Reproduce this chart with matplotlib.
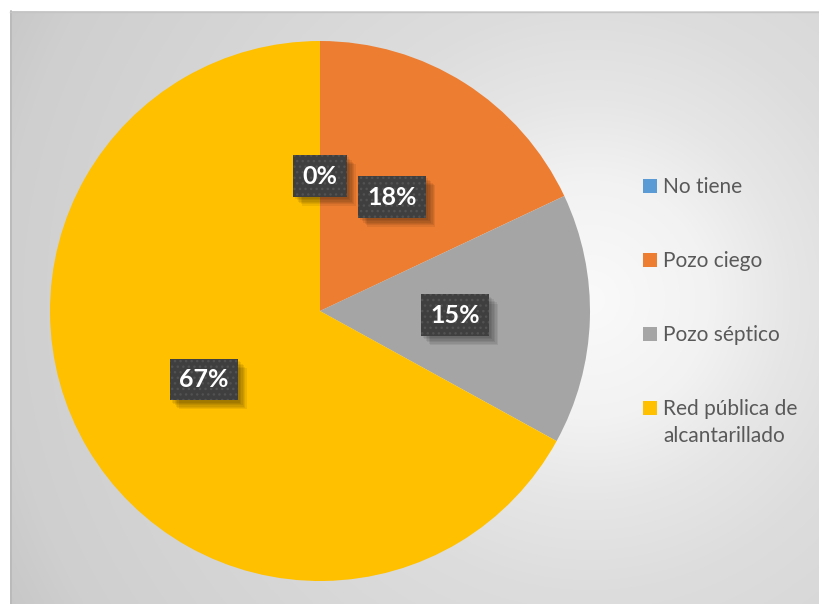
import numpy as np
import matplotlib
matplotlib.use("Agg")
import matplotlib.pyplot as plt
from matplotlib.patches import Rectangle
from matplotlib.lines import Line2D
import matplotlib.patheffects as pe

# Data
categories = ["No tiene", "Pozo ciego", "Pozo séptico", "Red pública de\nalcantarillado"]
shares = [0, 18, 15, 67]
colors = ["#5B9BD5", "#ED7D31", "#A5A5A5", "#FFC000"]

W, H = 819, 604
fig = plt.figure(figsize=(W / 100, H / 100), dpi=100)
fig.patch.set_facecolor("white")

# Chart-area panel with a soft radial gradient
bg = fig.add_axes([0, 0, 1, 1])
bg.set_xlim(0, W)
bg.set_ylim(H, 0)
bg.axis("off")
yy, xx = np.mgrid[0:H, 0:W] + 0.5
dist = np.hypot(xx - 590, yy - 300)
shade = np.interp(dist, [0, 120, 200, 290, 450, 590, 700],
                  [250, 242, 230, 221, 213, 207, 194]) / 255.0
img = np.dstack([shade, shade, shade])
img[:11, :, :] = 1.0
img[:, :10, :] = 1.0
bg.imshow(img, extent=(0, W, H, 0), interpolation="bilinear", aspect="auto")
bg.add_line(Line2D([10.5, 10.5], [11, H], color="#b8b8b8", lw=1.2))
bg.add_line(Line2D([10, W], [11.5, 11.5], color="#c4c4c4", lw=1.0))


class SoftShadow(pe.AbstractPathEffect):
    """Plain (unhatched) translucent copy of a patch, shifted down-right."""

    def __init__(self, offset, alpha):
        super().__init__(offset)
        self.alpha = alpha

    def draw_path(self, renderer, gc, tpath, affine, rgbFace=None):
        gc0 = renderer.new_gc()
        gc0.copy_properties(gc)
        gc0.set_hatch(None)
        gc0.set_linewidth(0)
        gc0.set_alpha(self.alpha)
        renderer.draw_path(gc0, tpath, affine + self._offset_transform(renderer),
                           (0.0, 0.0, 0.0))
        gc0.restore()


# Pie
ax = fig.add_axes([50 / W, 23 / H, 540 / W, 540 / H])
ax.set_facecolor("none")
wedges, texts, autotexts = ax.pie(
    shares, colors=colors, startangle=90, counterclock=False,
    autopct="%.0f%%", pctdistance=0.5, radius=1.0,
    wedgeprops=dict(linewidth=0),
)
ax.set_xlim(-1, 1)
ax.set_ylim(-1, 1)
ax.set_aspect("equal")

shadow = [SoftShadow((o, -o), 0.07) for o in (1.5, 2.5, 3.5, 4.5, 5.5, 6.5)] + [pe.Normal()]
for t in autotexts:
    t.set_fontfamily("Lato")
    t.set_fontweight("bold")
    t.set_fontsize(18)
    t.set_color("white")
    t.set_bbox(dict(boxstyle="square,pad=0.37", fc="#3f3f3f", ec="#525252",
                    lw=0, hatch="..."))
    t.get_bbox_patch().set_path_effects(shadow)

# Legend
rows_y = [186, 260, 334, 408]
for label, color, ry in zip(categories, colors, rows_y):
    bg.add_patch(Rectangle((643, ry - 7), 14, 14, facecolor=color, edgecolor="none"))
    bg.text(663, ry - 9, label, fontsize=15, family="Lato", color="#595959",
            ha="left", va="top", linespacing=1.45)

fig.savefig("out.png", dpi=100)
